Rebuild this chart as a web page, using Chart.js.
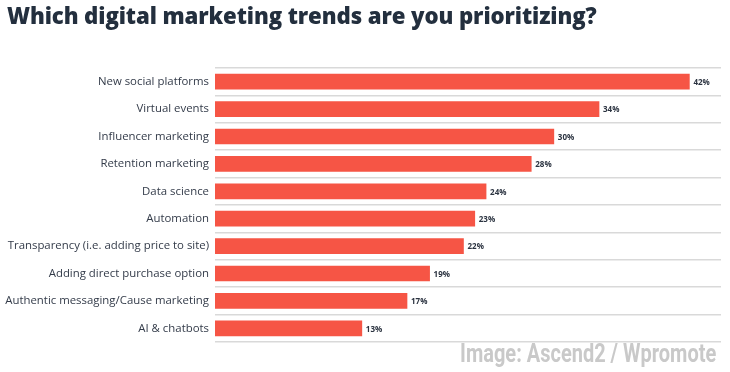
<!DOCTYPE html>
<html>
<head>
<meta charset="utf-8">
<script src="https://cdn.jsdelivr.net/npm/chart.js@4"></script>
<style>
  body { margin: 0; background: #fff; }
  #wrap { position: relative; width: 730px; height: 372px; overflow: hidden; }
  #title {
    position: absolute; left: 7px; top: 0px; margin: 0;
    font: 800 22.2px "Open Sans", "Lato", sans-serif; color: #232f3e; white-space: nowrap;
    letter-spacing: -0.1px;
  }
  #credit {
    position: absolute; right: 14px; top: 339px;
    font: bold 25px "Roboto", sans-serif; color: #c9c9c9; white-space: nowrap;
    transform: scaleX(0.8); transform-origin: right center;
  }
  canvas { position: absolute; left: 0; top: 0; }
</style>
</head>
<body>
<div id="wrap">
  <canvas id="trends" width="730" height="372"></canvas>
  <h1 id="title">Which digital marketing trends are you prioritizing?</h1>
  <div id="credit">Image: Ascend2 / Wpromote</div>
</div>
<script>
const categories = [
  'New social platforms', 'Virtual events', 'Influencer marketing', 'Retention marketing',
  'Data science', 'Automation', 'Transparency (i.e. adding price to site)',
  'Adding direct purchase option', 'Authentic messaging/Cause marketing', 'AI & chatbots'
];
const shares = [42, 34, 30, 28, 24, 23, 22, 19, 17, 13];

// percent labels right after each bar
const valueLabels = {
  id: 'valueLabels',
  afterDatasetsDraw(chart) {
    const ctx = chart.ctx;
    const meta = chart.getDatasetMeta(0);
    ctx.save();
    ctx.font = 'bold 8px "Open Sans", sans-serif';
    ctx.fillStyle = '#2b3340';
    ctx.textBaseline = 'middle';
    meta.data.forEach((bar, i) => {
      ctx.fillText(shares[i] + '%', bar.x + 4, bar.y + 1);
    });
    ctx.restore();
  }
};

new Chart(document.getElementById('trends'), {
  type: 'bar',
  data: {
    labels: categories,
    datasets: [{
      data: shares,
      backgroundColor: '#f65545',
      barThickness: 15
    }]
  },
  options: {
    indexAxis: 'y',
    responsive: false,
    animation: false,
    layout: { padding: { top: 68, right: 9, bottom: 30, left: 0 } },
    scales: {
      x: { display: false, min: 0, max: 44.8 },
      y: {
        afterFit(scale) { scale.width = 215; },
        border: { display: false },
        grid: { color: '#d9d9d9', lineWidth: 1.5, drawTicks: false, offset: true },
        ticks: {
          padding: 6,
          color: '#333b49',
          font: { family: '"Open Sans", sans-serif', size: 11.4 }
        }
      }
    },
    plugins: { legend: { display: false }, tooltip: { enabled: false } }
  },
  plugins: [valueLabels]
});
</script>
</body>
</html>
